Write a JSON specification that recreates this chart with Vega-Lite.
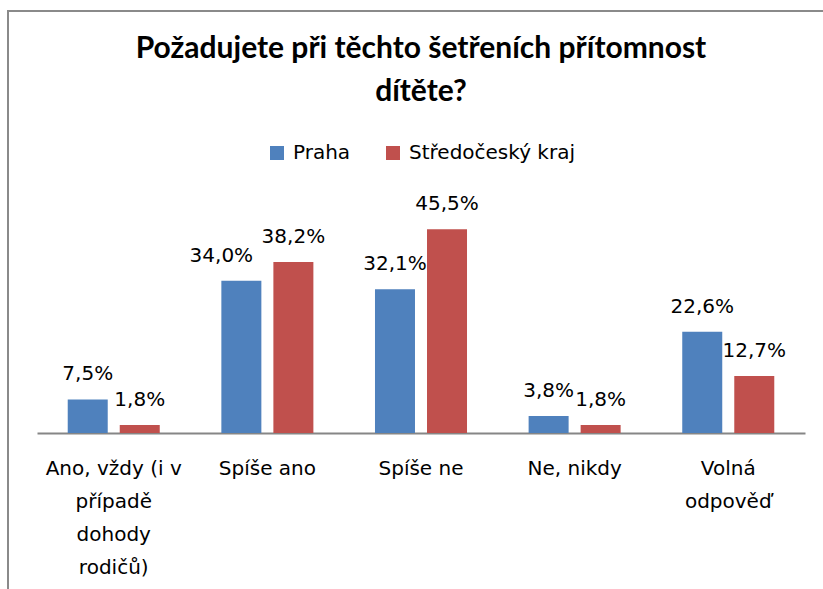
{
  "$schema": "https://vega.github.io/schema/vega-lite/v6.json",
  "width": 840,
  "height": 600,
  "autosize": {"type": "none"},
  "padding": {"left": 8, "top": 11, "right": 0, "bottom": 0},
  "background": "white",
  "config": {
    "view": {"stroke": "#8a8a8a", "strokeWidth": 2},
    "font": "DejaVu Sans"
  },
  "title": {
    "text": ["Požadujete při těchto šetřeních přítomnost", "dítěte?"],
    "font": "Lato",
    "fontSize": 30,
    "fontWeight": "bold",
    "color": "#000000",
    "anchor": "start",
    "frame": "group",
    "baseline": "top",
    "lineHeight": 43,
    "align": "center",
    "dx": 413,
    "offset": -96
  },
  "data": {
    "values": [
      {"kategorie": "Ano, vždy (i v případě dohody rodičů)", "region": "Praha", "hodnota": 7.5, "popis": "7,5%"},
      {"kategorie": "Ano, vždy (i v případě dohody rodičů)", "region": "Středočeský kraj", "hodnota": 1.8, "popis": "1,8%"},
      {"kategorie": "Spíše ano", "region": "Praha", "hodnota": 34.0, "popis": "34,0%"},
      {"kategorie": "Spíše ano", "region": "Středočeský kraj", "hodnota": 38.2, "popis": "38,2%"},
      {"kategorie": "Spíše ne", "region": "Praha", "hodnota": 32.1, "popis": "32,1%"},
      {"kategorie": "Spíše ne", "region": "Středočeský kraj", "hodnota": 45.5, "popis": "45,5%"},
      {"kategorie": "Ne, nikdy", "region": "Praha", "hodnota": 3.8, "popis": "3,8%"},
      {"kategorie": "Ne, nikdy", "region": "Středočeský kraj", "hodnota": 1.8, "popis": "1,8%"},
      {"kategorie": "Volná odpověď", "region": "Praha", "hodnota": 22.6, "popis": "22,6%"},
      {"kategorie": "Volná odpověď", "region": "Středočeský kraj", "hodnota": 12.7, "popis": "12,7%"}
    ]
  },
  "encoding": {
    "x": {
      "field": "kategorie",
      "type": "nominal",
      "sort": null,
      "scale": {"range": [29, 797], "paddingInner": 0.401, "paddingOuter": 0.2},
      "axis": {
        "title": null,
        "orient": "bottom",
        "offset": -178,
        "domainColor": "#868686",
        "domainWidth": 2,
        "ticks": false,
        "labelPadding": 25,
        "labelFont": "DejaVu Sans",
        "labelFontSize": 20,
        "labelColor": "#000000",
        "labelLineHeight": 33,
        "labelBaseline": "top",
        "labelAngle": 0,
        "labelLimit": 0,
        "labelOverlap": false,
        "labelExpr": "datum.label == 'Ano, vždy (i v případě dohody rodičů)' ? ['Ano, vždy (i v', 'případě', 'dohody', 'rodičů)'] : datum.label == 'Volná odpověď' ? ['Volná', 'odpověď'] : datum.label"
      }
    },
    "xOffset": {"field": "region", "type": "nominal", "sort": null, "scale": {"paddingInner": 0.231, "paddingOuter": 0}},
    "y": {
      "field": "hodnota",
      "type": "quantitative",
      "scale": {"domain": [-39.73, 94.2], "nice": false, "zero": false},
      "axis": null
    }
  },
  "layer": [
    {
      "mark": {"type": "bar"},
      "encoding": {
        "color": {
          "field": "region",
          "type": "nominal",
          "sort": null,
          "scale": {"domain": ["Praha", "Středočeský kraj"], "range": ["#4f81bd", "#c0504d"]},
          "legend": {
            "title": null,
            "orient": "none",
            "legendX": 259,
            "legendY": 132,
            "direction": "horizontal",
            "symbolType": "square",
            "symbolSize": 196,
            "symbolStrokeWidth": 0,
            "labelFont": "DejaVu Sans",
            "labelFontSize": 20,
            "labelColor": "#000000",
            "labelOffset": 6,
            "columnPadding": 32,
            "labelLimit": 0
          }
        },
        "y2": {"datum": 0}
      }
    },
    {
      "transform": [{"filter": "datum.popis != '34,0%'"}],
      "mark": {"type": "text", "baseline": "alphabetic", "dy": -19, "font": "DejaVu Sans", "fontSize": 20, "color": "#000000"},
      "encoding": {"text": {"field": "popis"}}
    },
    {
      "transform": [{"filter": "datum.popis == '34,0%'"}],
      "mark": {"type": "text", "baseline": "alphabetic", "dy": -19, "dx": -20, "font": "DejaVu Sans", "fontSize": 20, "color": "#000000"},
      "encoding": {"text": {"field": "popis"}}
    }
  ]
}
